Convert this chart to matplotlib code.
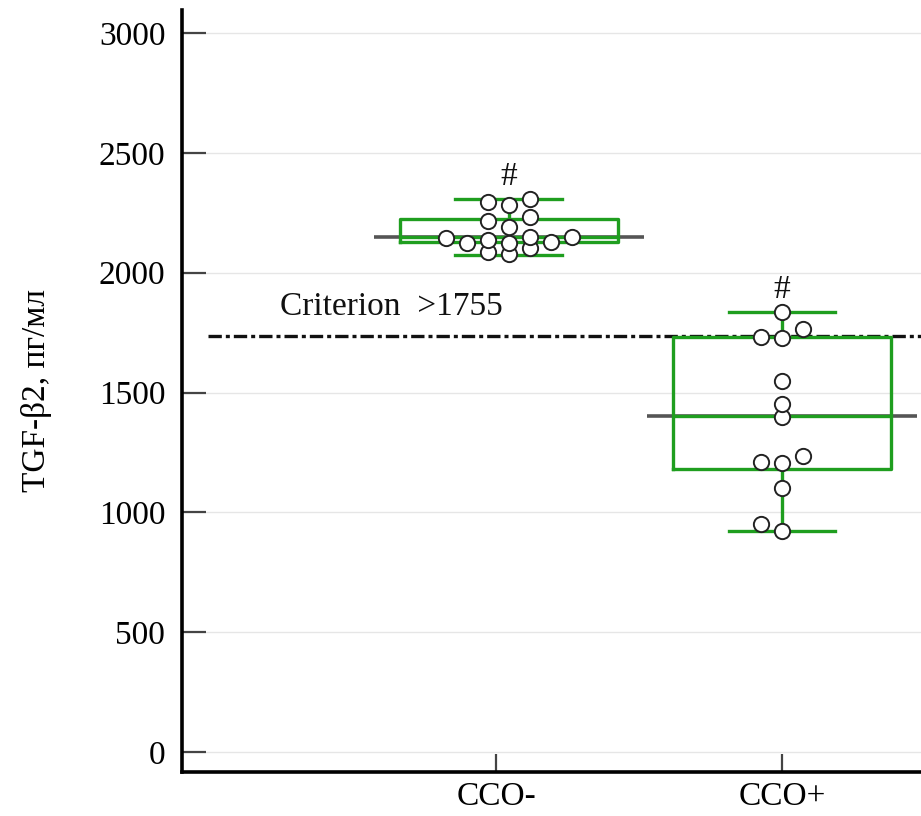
import numpy as np
import matplotlib
matplotlib.use("Agg")
import matplotlib.pyplot as plt

# ---------------- data ----------------
categories = ["CCO-", "CCO+"]
cco_minus = [2078, 2086, 2103, 2124, 2124, 2128, 2136, 2145, 2149, 2149,
             2190, 2215, 2232, 2282, 2295, 2307]
cco_plus = [922, 951, 1102, 1206, 1210, 1235, 1398, 1452, 1548, 1727,
            1731, 1765, 1836]
q1 = [2128, 1181]
median = [2149, 1402]
q3 = [2224, 1731]
whisker_low = [2074, 922]
whisker_high = [2307, 1836]
criterion_value = 1735
criterion_label = "Criterion  >1755"
significance = ["#", "#"]
yticks = [0, 500, 1000, 1500, 2000, 2500, 3000]
ylabel = "TGF-β2, пг/мл"

# ---------------- style ----------------
green = "#1f9e1f"
gray = "#555555"
serif = ["Liberation Serif", "DejaVu Serif"]
fs = 24
box_shift = [0.045, 0.0]

plt.rcParams["font.family"] = serif

fig = plt.figure(figsize=(9.21, 8.16), dpi=100)
ax = fig.add_axes([182 / 921, 1 - 772 / 816, 739 / 921, 762 / 816])
ax.set_xlim(-1.098, 1.486)
ax.set_ylim(-83, 3096)

# grid
ax.set_yticks(yticks)
ax.yaxis.grid(True, color="#e6e6e6", lw=1.0, zorder=0)
ax.set_axisbelow(True)

# criterion line
ax.axhline(criterion_value, xmin=26 / 739, xmax=1, color="#111111", lw=2.4,
           dashes=(4, 1.2, 1.2, 1.2), zorder=1)
ax.text(-0.755, criterion_value + 60, criterion_label, fontsize=fs,
        ha="left", va="bottom", color="#111111")

data = [cco_minus, cco_plus]
positions = [i + box_shift[i] for i in range(len(categories))]

# gray median extension lines
for i, p in enumerate(positions):
    ax.hlines(median[i], p - 0.472, p + 0.472, color=gray, lw=2.6, zorder=2)

stats = []
for i in range(len(categories)):
    stats.append(dict(q1=q1[i], med=median[i], q3=q3[i],
                      whislo=whisker_low[i], whishi=whisker_high[i],
                      fliers=[]))
ax.bxp(stats, positions=positions, widths=0.76, capwidths=0.374,
       showfliers=False, manage_ticks=False,
       boxprops=dict(color=green, lw=2.4),
       whiskerprops=dict(color=green, lw=2.4),
       capprops=dict(color=green, lw=2.4),
       medianprops=dict(color=green, lw=2.4),
       zorder=3)

# simple column beeswarm
fig.canvas.draw()
px_per_y = ax.transData.transform((0, 1))[1] - ax.transData.transform((0, 0))[1]
px_per_x = ax.transData.transform((1, 0))[0] - ax.transData.transform((0, 0))[0]
col_px = 21.0
min_sep_px = 11.0
order = [0, -1, 1, -2, 2, -3, 3, -4, 4, -5, 5]
for i, vals in enumerate(data):
    placed = {}
    xs, ys = [], []
    for v in sorted(vals):
        for c in order:
            ok = all(abs(v - u) * px_per_y >= min_sep_px for u in placed.get(c, []))
            if ok:
                placed.setdefault(c, []).append(v)
                xs.append(positions[i] + c * col_px / px_per_x)
                ys.append(v)
                break
    ax.plot(xs, ys, "o", ms=11, mfc="white", mec="#222222", mew=1.4,
            ls="none", zorder=5)
    ax.annotate(significance[i], (positions[i], max(vals)),
                xytext=(0, 16), textcoords="offset points",
                ha="center", va="center", fontsize=fs, color="#111111")

# axes styling
ax.set_xticks(range(len(categories)))
ax.set_xticklabels(categories, fontsize=fs)
ax.tick_params(axis="y", direction="in", length=17, width=1.6, color="#444444",
               labelsize=fs, pad=12)
ax.tick_params(axis="x", direction="in", length=13, width=1.6, color="#444444",
               labelsize=fs, pad=7)
for s in ["top", "right"]:
    ax.spines[s].set_visible(False)
for s in ["left", "bottom"]:
    ax.spines[s].set_linewidth(2.6)
    ax.spines[s].set_color("black")

ax.set_ylabel(ylabel, fontsize=fs)
ax.yaxis.set_label_coords(-0.176, 0.5)

fig.savefig("out.png", dpi=100)
